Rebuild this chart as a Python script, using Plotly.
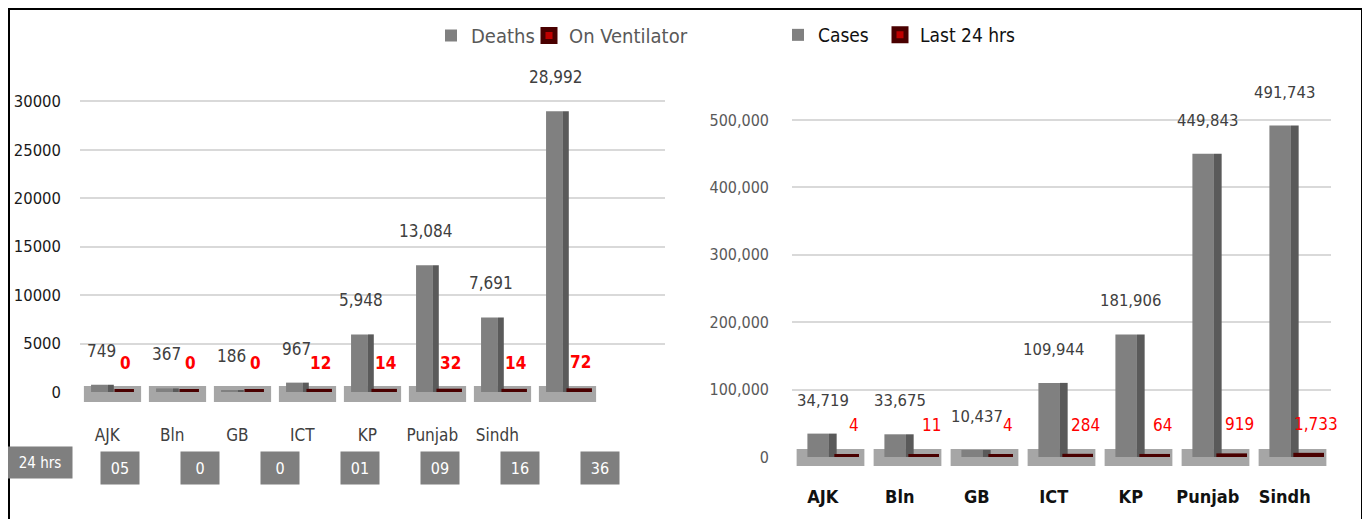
import plotly.graph_objects as go

# left chart: deaths / ventilator by region (last column = total)
death_regions = ["AJK", "Bln", "GB", "ICT", "KP", "Punjab", "Sindh", ""]
deaths = [749, 367, 186, 967, 5948, 13084, 7691, 28992]
on_ventilator = [0, 0, 0, 12, 14, 32, 14, 72]
deaths_24h = ["05", "0", "0", "01", "09", "16", "36"]

# right chart: cases by region
case_regions = ["AJK", "Bln", "GB", "ICT", "KP", "Punjab", "Sindh"]
cases = [34719, 33675, 10437, 109944, 181906, 449843, 491743]
last_24h = [4, 11, 4, 284, 64, 919, 1733]

W, H = 1370, 519
PAGE_MARGIN = 8  # default body margin of the html page
FONT = "DejaVu Sans Condensed, Liberation Sans Narrow, sans-serif"
GRAY = "#808080"
SIDE = "#5a5a5a"
RED = "#c00000"
TILE = "#4a0000"
FLOOR = "#a6a6a6"


def px(x):
    # screen pixel -> paper fraction
    return (x - PAGE_MARGIN) / W


def py(y):
    return 1 - (y - PAGE_MARGIN) / H


def legend_box(x, y, size, color):
    return dict(
        orientation="h", x=px(x), y=py(y), xanchor="left", yanchor="top",
        itemwidth=30, font=dict(size=size, color=color), bgcolor="rgba(0,0,0,0)",
    )


fig = go.Figure()

# ---- left panel
xl = list(range(len(deaths)))
fig.add_trace(go.Bar(
    x=xl, y=deaths, name="Deaths", offset=-0.33, width=0.26,
    marker=dict(color=GRAY, line=dict(width=0)),
    xaxis="x", yaxis="y", legend="legend",
))
fig.add_trace(go.Bar(
    x=xl, y=deaths, offset=-0.07, width=0.09, showlegend=False,
    marker=dict(color=SIDE, line=dict(width=0)), hoverinfo="skip",
    xaxis="x", yaxis="y",
))
fig.add_trace(go.Bar(
    x=xl, y=on_ventilator, name="On Ventilator", offset=0.03, width=0.3,
    marker=dict(color=RED, line=dict(width=6, color=TILE)),
    xaxis="x", yaxis="y", legend="legend2",
))

# ---- right panel
xr = list(range(len(cases)))
fig.add_trace(go.Bar(
    x=xr, y=cases, name="Cases", offset=-0.3, width=0.28,
    marker=dict(color=GRAY, line=dict(width=0)),
    xaxis="x2", yaxis="y2", legend="legend3",
))
fig.add_trace(go.Bar(
    x=xr, y=cases, offset=-0.02, width=0.1, showlegend=False,
    marker=dict(color=SIDE, line=dict(width=0)), hoverinfo="skip",
    xaxis="x2", yaxis="y2",
))
fig.add_trace(go.Bar(
    x=xr, y=last_24h, name="Last 24 hrs", offset=0.05, width=0.32,
    marker=dict(color=RED, line=dict(width=6, color=TILE)),
    xaxis="x2", yaxis="y2", legend="legend4",
))

annotations = []
for i, v in enumerate(deaths):
    annotations.append(dict(
        x=i - 0.17, y=v, xref="x", yref="y", text=f"{v:,}", showarrow=False,
        yanchor="bottom", yshift=22, font=dict(size=17, color="#404040"),
    ))
for i, v in enumerate(on_ventilator):
    annotations.append(dict(
        x=i + 0.2, y=v, xref="x", yref="y", text=f"<b>{v}</b>", showarrow=False,
        yanchor="bottom", yshift=17, font=dict(size=17, color="#ff0000"),
    ))
for i, v in enumerate(cases):
    annotations.append(dict(
        x=i - 0.1, y=v, xref="x2", yref="y2", text=f"{v:,}", showarrow=False,
        yanchor="bottom", yshift=22, font=dict(size=16.5, color="#404040"),
    ))
for i, v in enumerate(last_24h):
    annotations.append(dict(
        x=i + 0.31, y=v, xref="x2", yref="y2", text=f"{v:,}", showarrow=False,
        yanchor="bottom", yshift=20, font=dict(size=17, color="#ff0000"),
    ))

# "24 hrs" row of boxes under the left chart
annotations.append(dict(
    x=px(40), y=py(462), xref="paper", yref="paper", text="24 hrs",
    xanchor="center", yanchor="middle",
    showarrow=False, width=62, height=29, bgcolor="#7f7f7f",
    font=dict(size=15, color="white"),
))
for i, t in enumerate(deaths_24h):
    annotations.append(dict(
        x=px(120 + 80 * i), y=py(468), xref="paper", yref="paper", text=t,
        xanchor="center", yanchor="middle",
        showarrow=False, width=36, height=30, bgcolor="#7f7f7f",
        font=dict(size=16, color="white"),
    ))

# floor tiles under each group (the flat 3d base)
shapes = []
for i in xl:
    shapes.append(dict(
        type="rect", xref="x", yref="paper", x0=i - 0.44, x1=i + 0.44,
        y0=py(402), y1=py(386), fillcolor=FLOOR, line=dict(width=0), layer="below",
    ))
for i in xr:
    shapes.append(dict(
        type="rect", xref="x2", yref="paper", x0=i - 0.44, x1=i + 0.44,
        y0=py(466), y1=py(449), fillcolor=FLOOR, line=dict(width=0), layer="below",
    ))
shapes.append(dict(
    type="rect", xref="paper", yref="paper",
    x0=px(9), x1=px(1362), y0=-0.02, y1=py(9),
    line=dict(color="black", width=2),
))

fig.update_layout(
    width=W, height=H,
    margin=dict(l=0, r=0, t=0, b=0, autoexpand=False),
    paper_bgcolor="white", plot_bgcolor="white",
    font=dict(family=FONT, color="#404040"),
    barmode="overlay",
    xaxis=dict(
        domain=[px(80), px(665)], range=[-0.5, 8.5],
        tickvals=[i - 0.08 for i in xl], ticktext=death_regions,
        showgrid=False, zeroline=False, showline=False, ticks="",
        ticklabelstandoff=31, tickfont=dict(size=17, color="#404040"),
    ),
    yaxis=dict(
        domain=[py(392), py(82)], range=[0, 32000],
        tickvals=[0, 5000, 10000, 15000, 20000, 25000, 30000], tickformat="d",
        showgrid=True, gridcolor="#d9d9d9", gridwidth=2, zeroline=False,
        ticklabelstandoff=18, tickfont=dict(size=16.5, color="#1a1a1a"),
    ),
    xaxis2=dict(
        domain=[px(792), px(1331)], range=[-0.5, 6.5], anchor="y2",
        tickvals=[i - 0.1 for i in xr], ticktext=[f"<b>{c}</b>" for c in case_regions],
        showgrid=False, zeroline=False, showline=False, ticks="",
        ticklabelstandoff=27, tickfont=dict(size=18, color="#111111"),
    ),
    yaxis2=dict(
        domain=[py(457), py(93)], range=[0, 540000], anchor="x2",
        tickvals=[0, 100000, 200000, 300000, 400000, 500000], tickformat=",d",
        showgrid=True, gridcolor="#d9d9d9", gridwidth=2, zeroline=False,
        ticklabelstandoff=22, tickfont=dict(size=16, color="#595959"),
    ),
    legend=legend_box(431, 16, 20, "#595959"),
    legend2=legend_box(529, 16, 20, "#595959"),
    legend3=legend_box(778, 16, 19, "#111111"),
    legend4=legend_box(880, 16, 19, "#111111"),
    annotations=annotations,
    shapes=shapes,
    showlegend=True,
)

fig.write_html("out.html")
